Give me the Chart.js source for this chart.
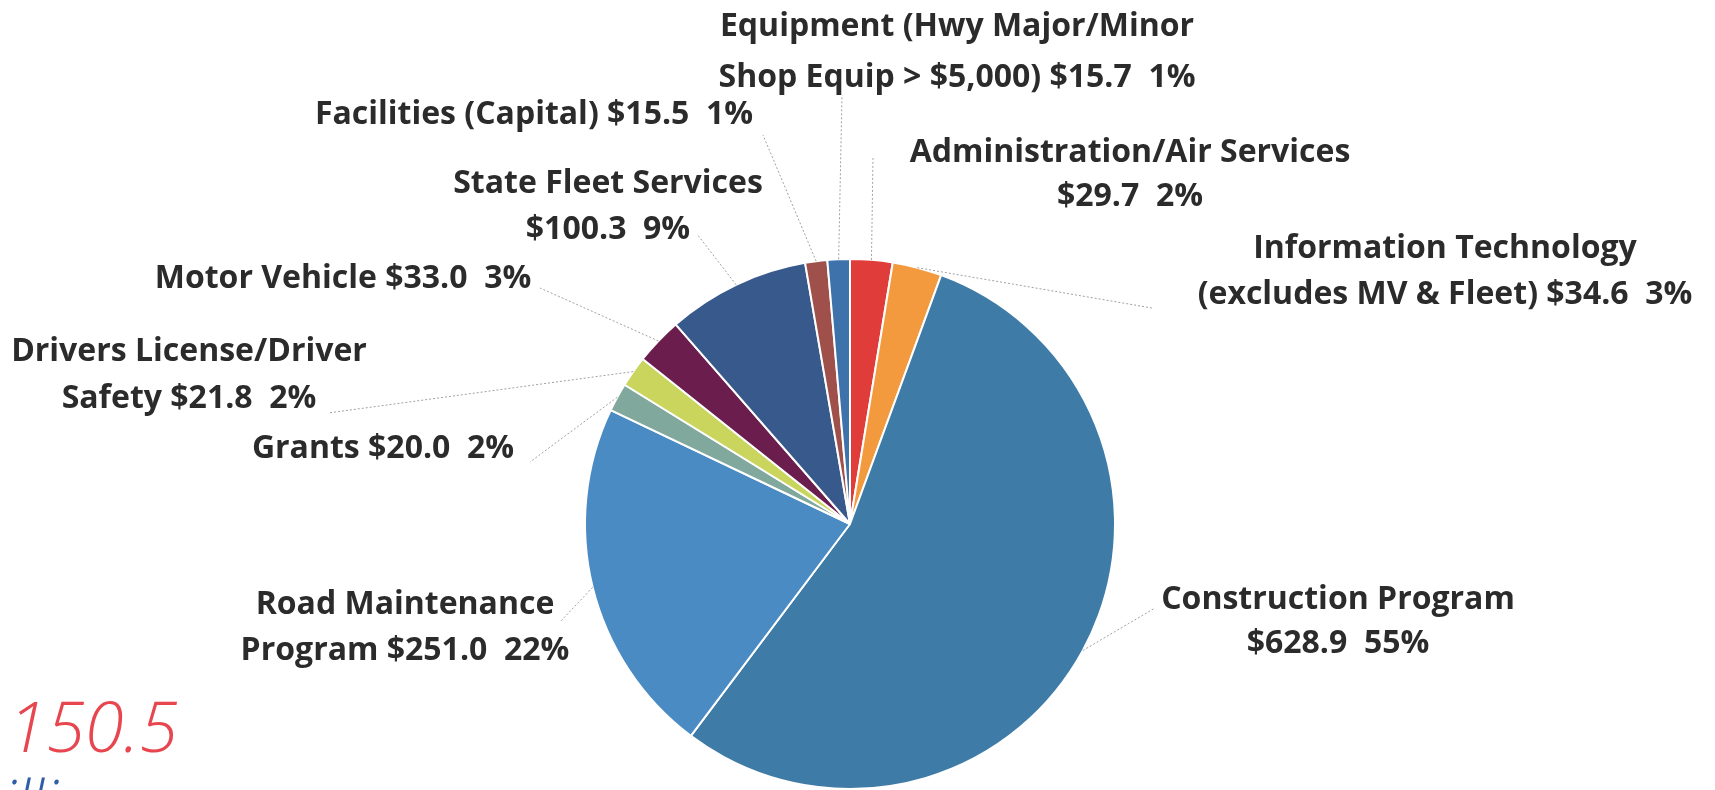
<!DOCTYPE html>
<html>
<head>
<meta charset="utf-8">
<script src="https://cdn.jsdelivr.net/npm/chart.js@4.4.0/dist/chart.umd.min.js"></script>
<style>
  html, body { margin: 0; padding: 0; background: #fff; }
  #wrap { position: relative; width: 1715px; height: 790px; overflow: hidden; }
</style>
</head>
<body>
<div id="wrap"><canvas id="pieChart" width="1715" height="790"></canvas></div>
<script>
// DATA ($ millions), clockwise from 12 o'clock
const categories = [
    "Administration/Air Services\n",
    "Information Technology\n(excludes MV & Fleet)",
    "Construction Program\n",
    "Road Maintenance\nProgram",
    "Grants",
    "Drivers License/Driver\nSafety",
    "Motor Vehicle",
    "State Fleet Services\n",
    "Facilities (Capital)",
    "Equipment (Hwy Major/Minor\nShop Equip > $5,000)"
];
const amounts = [29.7, 34.6, 628.9, 251.0, 20.0, 21.8, 33.0, 100.3, 15.5, 15.7];
const percents = [2, 3, 55, 22, 2, 2, 3, 9, 1, 1];
const totalText = "150.5";
const unitText = "illions";

const sliceColors = ["#e03d3a", "#f39a3f", "#3f7ba7", "#4a8bc4", "#80a89c",
                     "#c9d55c", "#6b1d4e", "#38598b", "#a0504a", "#3e72aa"];

// label layout: [centre x, first line y, line gap], leader end [x, y]
const labelPos = [[1130, 153, 44], [1445, 249, 46], [1338, 600, 44], [405, 605, 46], [383, 449, 0],
                  [189, 352, 47], [343, 279, 0], [608, 184, 46], [534, 115, 0], [957, 27, 51]];
const leaderEnd = [[873, 158], [1152, 308], [1155, 608], [560, 622], [530, 462],
                   [328, 413], [540, 288], [697, 234], [763, 135], [842, 95]];

const labelText = categories.map((c, i) => {
    const sep = c.endsWith("\n") ? "" : " ";
    return (c + sep + "$" + amounts[i].toFixed(1) + "  " + percents[i] + "%").split("\n");
});

const FONT = "700 32px 'Open Sans'";

const calloutPlugin = {
    id: "callouts",
    afterDatasetsDraw(chart) {
        const ctx = chart.ctx;
        const arcs = chart.getDatasetMeta(0).data;
        ctx.save();
        // leader lines
        ctx.strokeStyle = "#a0a0a0";
        ctx.lineWidth = 1;
        ctx.setLineDash([2, 2]);
        arcs.forEach((arc, i) => {
            const p = arc.getProps(["x", "y", "startAngle", "endAngle", "outerRadius"], true);
            const a = (p.startAngle + p.endAngle) / 2;
            ctx.beginPath();
            ctx.moveTo(p.x + Math.cos(a) * p.outerRadius, p.y + Math.sin(a) * p.outerRadius);
            ctx.lineTo(leaderEnd[i][0], leaderEnd[i][1]);
            ctx.stroke();
        });
        ctx.setLineDash([]);
        // labels
        ctx.fillStyle = "#2b2b2b";
        ctx.font = FONT;
        ctx.textAlign = "center";
        ctx.textBaseline = "middle";
        labelText.forEach((lines, i) => {
            lines.forEach((t, j) => {
                ctx.fillText(t, labelPos[i][0], labelPos[i][1] + j * labelPos[i][2]);
            });
        });
        // total, cut off at bottom-left like the source slide
        ctx.textAlign = "left";
        ctx.textBaseline = "alphabetic";
        ctx.fillStyle = "#e8464f";
        ctx.font = "italic 300 70px 'Open Sans'";
        ctx.fillText(totalText, 8, 752);
        ctx.fillStyle = "#2f5da6";
        ctx.font = "italic 300 62px 'Open Sans'";
        ctx.fillText(unitText, 2, 825);
        ctx.restore();
    }
};

new Chart(document.getElementById("pieChart"), {
    type: "pie",
    data: {
        labels: categories.map(c => c.replace("\n", " ").trim()),
        datasets: [{
            data: amounts,
            backgroundColor: sliceColors,
            borderColor: "#ffffff",
            borderWidth: 2,
            hoverOffset: 0
        }]
    },
    options: {
        responsive: false,
        animation: false,
        layout: { padding: { left: 584, right: 599, top: 258, bottom: 0 } },
        plugins: {
            legend: { display: false },
            tooltip: { enabled: false }
        }
    },
    plugins: [calloutPlugin]
});
</script>
</body>
</html>
